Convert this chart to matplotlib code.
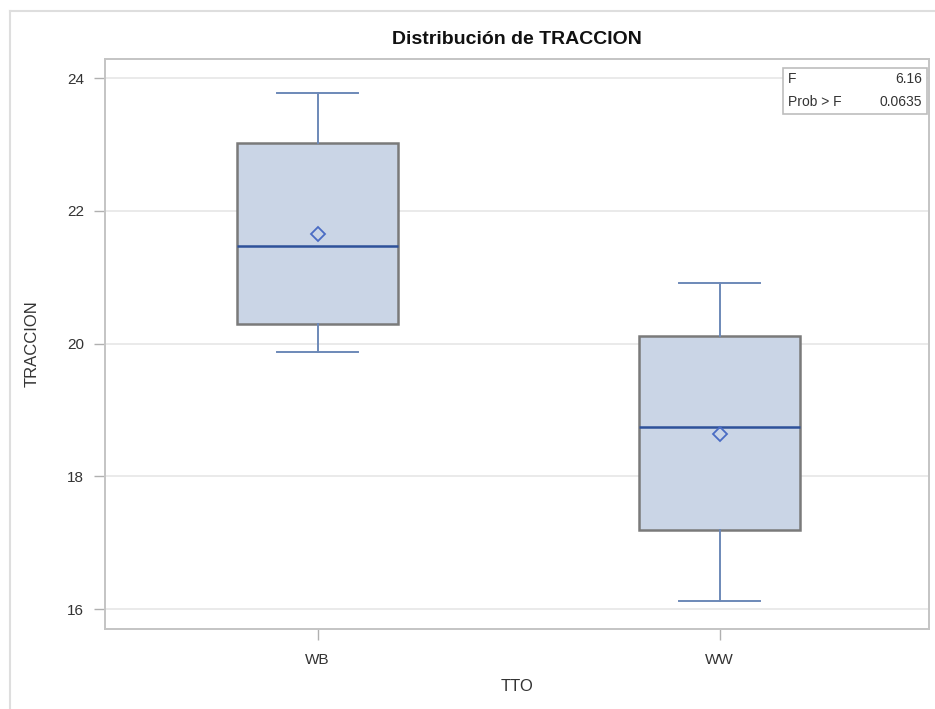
import matplotlib
matplotlib.use("Agg")
import matplotlib.pyplot as plt
from matplotlib.lines import Line2D

plt.rcParams['font.family'] = ['Liberation Sans', 'DejaVu Sans']

# Group summaries for TRACCION by treatment
groups = ["WB", "WW"]
whisker_low = [19.88, 16.12]
q1 = [20.29, 17.19]
median = [21.47, 18.74]
q3 = [23.03, 20.11]
whisker_high = [23.78, 20.92]
means = [21.65, 18.64]

y_ticks = [16, 18, 20, 22, 24]
f_value = "6.16"
p_value = "0.0635"

fig = plt.figure(figsize=(9.35, 7.09), dpi=100)
ax = fig.add_axes([105 / 935, 1 - 629 / 709, (929 - 105) / 935, (629 - 59) / 709])

# Light outer frame of the graph
fig.add_artist(Line2D([10 / 935, 1.0], [1 - 11 / 709, 1 - 11 / 709],
                      transform=fig.transFigure, color="#dedede", lw=1.5))
fig.add_artist(Line2D([10 / 935, 10 / 935], [0.0, 1 - 11 / 709],
                      transform=fig.transFigure, color="#dedede", lw=1.5))

stats = []
for i, g in enumerate(groups):
    stats.append(dict(label=g, whislo=whisker_low[i], q1=q1[i], med=median[i],
                      q3=q3[i], whishi=whisker_high[i], mean=means[i], fliers=[]))

positions = list(range(len(groups)))
ax.bxp(stats, positions=positions, widths=0.40, patch_artist=True,
       showmeans=True, showfliers=False,
       boxprops=dict(facecolor="#cad5e6", edgecolor="#7a7a7a", linewidth=1.8),
       medianprops=dict(color="#2e519a", linewidth=1.8),
       whiskerprops=dict(color="#6d89b8", linewidth=1.4),
       capprops=dict(color="#6d89b8", linewidth=1.4),
       capwidths=0.20,
       meanprops=dict(marker="D", markersize=7, markerfacecolor="none",
                      markeredgecolor="#4a6cc4", markeredgewidth=1.3),
       zorder=3)

ax.set_xlim(-0.529, 1.521)
ax.set_ylim(15.70, 24.29)
ax.set_yticks(y_ticks)
ax.set_yticklabels([str(t) for t in y_ticks])
ax.set_xticks(positions)
ax.set_xticklabels(groups)

ax.yaxis.grid(True, color="#e6e6e6", linewidth=1.2, zorder=0)
ax.set_axisbelow(True)

for side in ["left", "bottom", "right", "top"]:
    ax.spines[side].set_color("#c4c4c4")
    ax.spines[side].set_linewidth(1.4)

ax.tick_params(axis="both", colors="#b0b0b0", length=8, width=1.0,
               labelcolor="#333333", labelsize=11)
ax.tick_params(axis="x", pad=9)
ax.tick_params(axis="y", pad=7)

ax.set_xlabel("TTO", fontsize=12, color="#333333", labelpad=9)
ax.set_ylabel("TRACCION", fontsize=12, color="#333333", labelpad=20)
ax.set_title("Distribución de TRACCION", fontsize=14, fontweight="bold",
             color="#111111", pad=11)

# F statistic inset box
bx0, bx1 = 783, 927
by0, by1 = 68, 114
inset = plt.Rectangle((bx0 / 935, 1 - by1 / 709), (bx1 - bx0) / 935, (by1 - by0) / 709,
                      transform=fig.transFigure, facecolor="white",
                      edgecolor="#bdbdbd", linewidth=1.2, zorder=5)
fig.add_artist(inset)
fig.text(788 / 935, 1 - 79 / 709, "F", fontsize=10, color="#333333",
         va="center", ha="left", zorder=6)
fig.text(922 / 935, 1 - 79 / 709, f_value, fontsize=10, color="#333333",
         va="center", ha="right", zorder=6)
fig.text(788 / 935, 1 - 102 / 709, "Prob > F", fontsize=10, color="#333333",
         va="center", ha="left", zorder=6)
fig.text(922 / 935, 1 - 102 / 709, p_value, fontsize=10, color="#333333",
         va="center", ha="right", zorder=6)

fig.savefig("out.png", dpi=100, facecolor="white")
